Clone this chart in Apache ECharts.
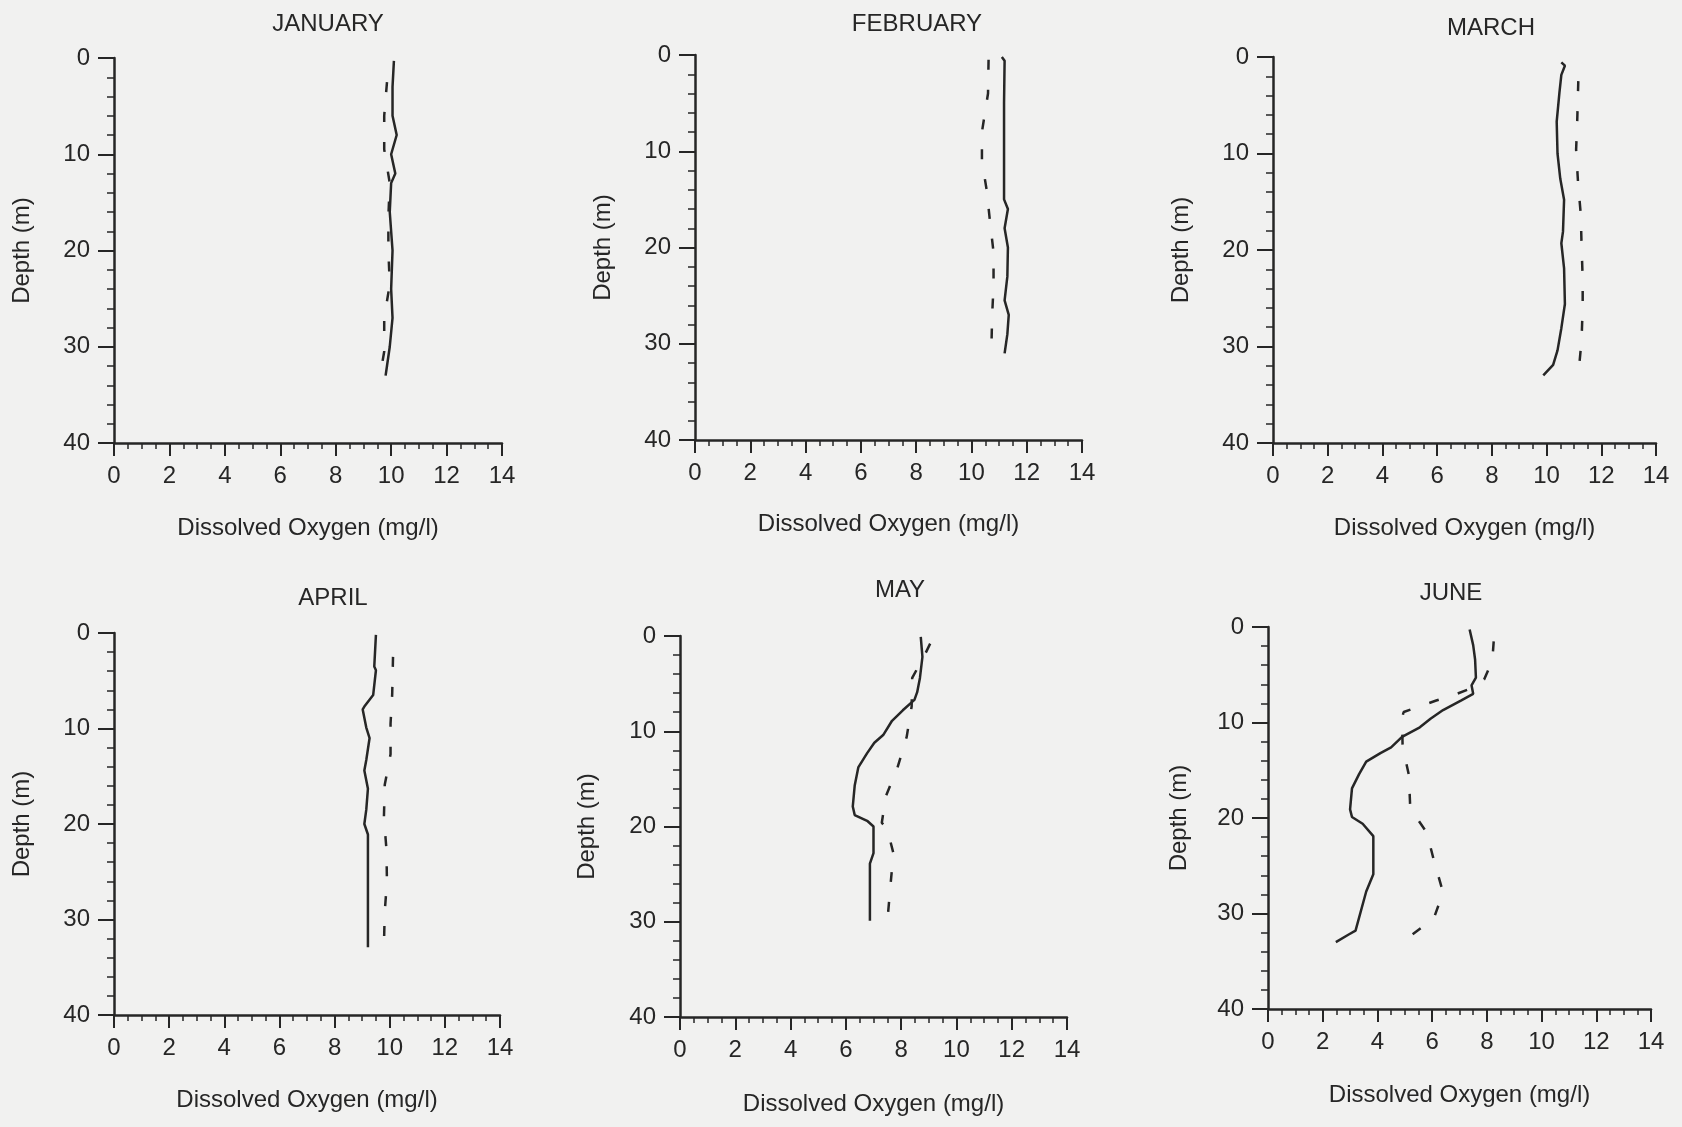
<!DOCTYPE html>
<html>
<head>
<meta charset="utf-8">
<title>Dissolved Oxygen profiles</title>
<script src="https://cdn.jsdelivr.net/npm/echarts@6/dist/echarts.min.js"></script>
<style>
  html, body { margin: 0; padding: 0; background: #f1f1f0; }
  #chart { width: 1682px; height: 1127px; }
</style>
</head>
<body>
<div id="chart"></div>
<script>
// depth (m) / dissolved oxygen (mg/l) profiles

var janSolidDepth = [0.3, 3, 6, 8, 10, 12, 13, 16, 20, 24, 27, 30, 32, 33];
var janSolidDO    = [10.1, 10.05, 10.05, 10.2, 10.0, 10.15, 10.0, 9.95, 10.05, 10.0, 10.05, 9.95, 9.85, 9.8];
var janDashDepth  = [2.5, 6, 9.5, 13, 16.5, 20, 23.5, 27, 30.5, 33];
var janDashDO     = [9.85, 9.75, 9.75, 9.95, 9.9, 9.9, 9.95, 9.75, 9.75, 9.6];

var febSolidDepth = [0.2, 0.6, 5, 10, 15, 16, 18, 20, 23, 25.5, 27, 29, 31];
var febSolidDO    = [11.1, 11.2, 11.18, 11.18, 11.18, 11.32, 11.2, 11.32, 11.3, 11.2, 11.35, 11.3, 11.2];
var febDashDepth  = [0.5, 4, 8, 11, 14, 17.5, 20.5, 24, 27, 30.8];
var febDashDO     = [10.62, 10.6, 10.38, 10.38, 10.55, 10.68, 10.8, 10.8, 10.75, 10.72];

var marSolidDepth = [0.55, 0.9, 1.85, 3.7, 6.7, 10, 12.6, 14.8, 18.1, 19.3, 21.9, 25.6, 28.1, 30.4, 31.9, 33];
var marSolidDO    = [10.54, 10.67, 10.54, 10.47, 10.37, 10.4, 10.5, 10.64, 10.6, 10.54, 10.64, 10.67, 10.54, 10.4, 10.24, 9.88];
var marDashDepth  = [2.5, 6.7, 9.6, 13, 16.3, 19.6, 23, 25.9, 29.3, 33];
var marDashDO     = [11.16, 11.12, 11.08, 11.15, 11.25, 11.28, 11.32, 11.32, 11.28, 11.16];

var aprSolidDepth = [0.2, 3.5, 3.9, 6.5, 7.7, 8, 9.9, 11, 13.3, 14.4, 16.3, 18.5, 20, 21.1, 32.9];
var aprSolidDO    = [9.5, 9.44, 9.5, 9.4, 9.08, 9.02, 9.15, 9.27, 9.15, 9.08, 9.21, 9.15, 9.08, 9.21, 9.21];
var aprDashDepth  = [2.5, 6.4, 9.5, 12.7, 15.9, 19.3, 22.6, 26, 29.2, 32.8];
var aprDashDO     = [10.12, 10.09, 10.03, 10.03, 9.82, 9.79, 9.88, 9.9, 9.82, 9.79];

var maySolidDepth = [0.1, 2.2, 4.4, 5.9, 6.7, 7.8, 8.9, 10.4, 11.2, 12.3, 13.8, 15.7, 17.9, 18.8, 19.4, 20, 22.8, 23.9, 29.9];
var maySolidDO    = [8.71, 8.77, 8.68, 8.58, 8.48, 8.06, 7.67, 7.35, 7.03, 6.77, 6.45, 6.32, 6.25, 6.32, 6.77, 7.0, 7.0, 6.87, 6.87];
var mayDashDepth  = [0.8, 2, 4.4, 7.4, 10.6, 13.8, 16.8, 19.6, 20.3, 22.8, 26, 30];
var mayDashDO     = [9.05, 8.85, 8.4, 8.38, 8.2, 7.87, 7.45, 7.3, 7.5, 7.72, 7.62, 7.5];

var junSolidDepth = [0.26, 1.9, 3.4, 5.3, 6.1, 7, 7.7, 8.7, 9.6, 10.5, 11.5, 12.6, 13.2, 14.1, 15.4, 16.9, 19.1, 19.9, 20.6, 21.9, 25.9, 27.7, 31.8, 32.2, 33];
var junSolidDO    = [7.37, 7.5, 7.57, 7.6, 7.44, 7.5, 7.05, 6.4, 5.94, 5.55, 4.9, 4.5, 4.11, 3.59, 3.33, 3.07, 3.0, 3.07, 3.46, 3.85, 3.85, 3.59, 3.2, 2.95, 2.48];
var junDashDepth  = [1.5, 3.5, 5.5, 6.4, 7, 7.7, 8.1, 8.9, 9.5, 12.5, 15.5, 19, 21.5, 24.5, 27.8, 30.6, 31.5, 32.9];
var junDashDO     = [8.25, 8.2, 7.9, 7.45, 6.9, 6.15, 5.75, 4.96, 4.9, 4.92, 5.15, 5.2, 5.8, 6.07, 6.4, 6.05, 5.6, 4.95];

var monthNames = ['JANUARY', 'FEBRUARY', 'MARCH', 'APRIL', 'MAY', 'JUNE'];
var xAxisName = 'Dissolved Oxygen (mg/l)';
var yAxisName = 'Depth (m)';

// panel placement on the page (px)
var panelLayout = [
  { left: 114,  top: 58,  width: 388, height: 385, titleX: 323,  titleY: 7,   xGap: 73, yGap: 80 },
  { left: 695,  top: 55,  width: 387, height: 385, titleX: 912,  titleY: 7,   xGap: 72, yGap: 80 },
  { left: 1273, top: 57,  width: 383, height: 386, titleX: 1486, titleY: 11,  xGap: 73, yGap: 80 },
  { left: 114,  top: 633, width: 386, height: 382, titleX: 328,  titleY: 581, xGap: 73, yGap: 80 },
  { left: 680,  top: 636, width: 387, height: 381, titleX: 895,  titleY: 573, xGap: 75, yGap: 81 },
  { left: 1268, top: 627, width: 383, height: 382, titleX: 1446, titleY: 576, xGap: 74, yGap: 77 }
];

var profiles = [
  [janSolidDepth, janSolidDO, janDashDepth, janDashDO],
  [febSolidDepth, febSolidDO, febDashDepth, febDashDO],
  [marSolidDepth, marSolidDO, marDashDepth, marDashDO],
  [aprSolidDepth, aprSolidDO, aprDashDepth, aprDashDO],
  [maySolidDepth, maySolidDO, mayDashDepth, mayDashDO],
  [junSolidDepth, junSolidDO, junDashDepth, junDashDO]
];

var ink = '#262626';
var font = '"Liberation Sans", Arial, Helvetica, sans-serif';

function zipProfile(depths, values) {
  let out = [];
  for (let i = 0; i < depths.length; i++)
    out.push([values[i], depths[i]]);
  return out;
}

var grids = [], xAxes = [], yAxes = [], titles = [], series = [];

for (let i = 0; i < panelLayout.length; i++) {
  const p = panelLayout[i];

  grids.push({ left: p.left, top: p.top, width: p.width, height: p.height,
               outerBoundsMode: 'none', containLabel: false });

  titles.push({
    text: monthNames[i], left: p.titleX, top: p.titleY, textAlign: 'center',
    textStyle: { fontFamily: font, fontSize: 24, fontWeight: 'normal', color: ink }
  });

  xAxes.push({
    gridIndex: i, type: 'value', min: 0, max: 14, interval: 2, position: 'bottom',
    axisLine: { onZero: false, lineStyle: { color: ink, width: 2.5 } },
    axisTick: { length: 13, lineStyle: { color: ink, width: 2 } },
    minorTick: { show: true, splitNumber: 4, length: 6, lineStyle: { color: ink, width: 1.5 } },
    splitLine: { show: false },
    minorSplitLine: { show: false },
    axisLabel: { margin: 21, color: ink, fontSize: 24, fontFamily: font },
    name: xAxisName, nameLocation: 'middle', nameGap: p.xGap, nameMoveOverlap: false,
    nameTextStyle: { color: ink, fontSize: 24, fontFamily: font }
  });

  yAxes.push({
    gridIndex: i, type: 'value', inverse: true, min: 0, max: 40, interval: 10,
    axisLine: { show: true, onZero: false, lineStyle: { color: ink, width: 2.5 } },
    axisTick: { show: true, length: 16, lineStyle: { color: ink, width: 2 } },
    minorTick: { show: true, splitNumber: 5, length: 7, lineStyle: { color: ink, width: 1.5 } },
    splitLine: { show: false },
    minorSplitLine: { show: false },
    axisLabel: { margin: 24, color: ink, fontSize: 24, fontFamily: font },
    name: yAxisName, nameLocation: 'middle', nameGap: p.yGap, nameMoveOverlap: false,
    nameTextStyle: { color: ink, fontSize: 24, fontFamily: font }
  });

  const prof = profiles[i];
  series.push({
    type: 'line', xAxisIndex: i, yAxisIndex: i, symbol: 'none',
    data: zipProfile(prof[0], prof[1]),
    lineStyle: { color: ink, width: 2.5, type: 'solid' }
  });
  series.push({
    type: 'line', xAxisIndex: i, yAxisIndex: i, symbol: 'none',
    data: zipProfile(prof[2], prof[3]),
    lineStyle: { color: ink, width: 2.5, type: [10, 20] }
  });
}

var chart = echarts.init(document.getElementById('chart'));
chart.setOption({
  backgroundColor: '#f1f1f0',
  animation: false,
  title: titles,
  grid: grids,
  xAxis: xAxes,
  yAxis: yAxes,
  series: series
});
</script>
</body>
</html>
